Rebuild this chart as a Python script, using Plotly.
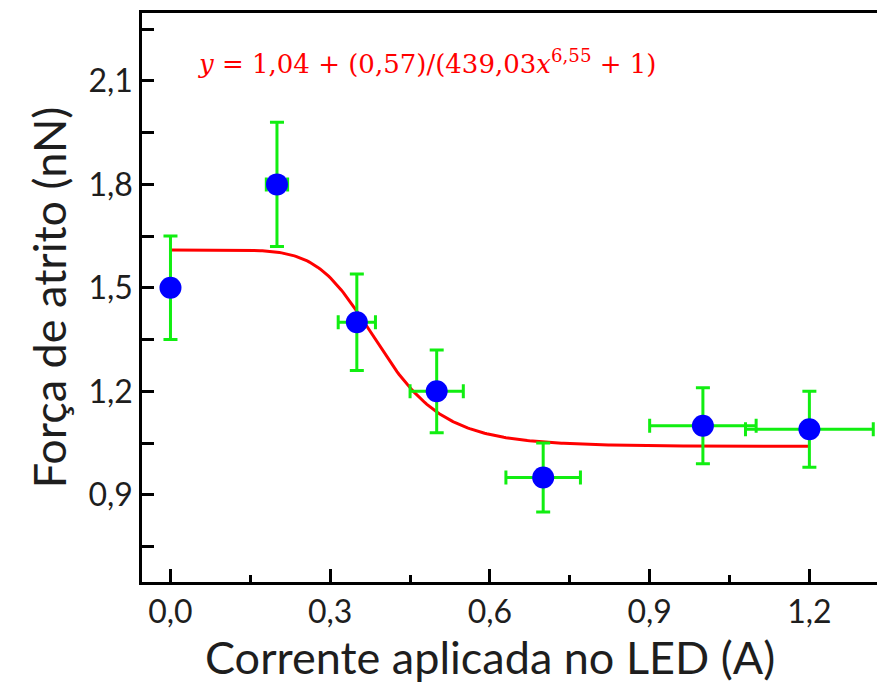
import numpy as np
import plotly.graph_objects as go

# Data
current = [0.0, 0.2, 0.35, 0.5, 0.7, 1.0, 1.2]
friction = [1.50, 1.80, 1.40, 1.20, 0.95, 1.10, 1.09]
friction_err = [0.15, 0.18, 0.14, 0.12, 0.10, 0.11, 0.11]
current_err = [0.0, 0.02, 0.035, 0.05, 0.07, 0.10, 0.12]

# Fit parameters shown in the chart: y = A + B/(C x^p + 1)
fit_A, fit_B, fit_C, fit_p = 1.04, 0.57, 439.03, 6.55
fit_x = np.linspace(0.0, 1.2, 300)
fit_y = fit_A + fit_B / (fit_C * fit_x ** fit_p + 1)

x_ticks = [0.0, 0.3, 0.6, 0.9, 1.2]
x_ticklabels = ["0,0", "0,3", "0,6", "0,9", "1,2"]
y_ticks = [0.9, 1.2, 1.5, 1.8, 2.1]
y_ticklabels = ["0,9", "1,2", "1,5", "1,8", "2,1"]

FONT = "Lato"
TXT = "#1e1e1e"

fig = go.Figure()
fig.add_trace(go.Scatter(
    x=fit_x, y=fit_y, mode="lines",
    line=dict(color="#ff0000", width=3), showlegend=False, hoverinfo="skip"))
fig.add_trace(go.Scatter(
    x=current, y=friction, mode="markers",
    marker=dict(color="#0000ff", size=22, line=dict(width=0)),
    error_y=dict(type="data", array=friction_err, color="#11ee11", thickness=3, width=7),
    error_x=dict(type="data", array=current_err, color="#11ee11", thickness=3, width=7),
    showlegend=False))

fig.add_annotation(
    x=0.048, y=2.155, xref="x", yref="y", xanchor="left", yanchor="middle",
    text="<i>y</i> = 1,04 + (0,57)/(439,03<i>x</i><sup>6,55</sup> + 1)",
    showarrow=False, font=dict(family="DejaVu Serif", size=26, color="#ff0000"))

# x-axis title placed as annotation (centered under the visible axis area)
fig.add_annotation(
    x=0.4735, y=-0.132, xref="paper", yref="paper", xanchor="center", yanchor="middle",
    text="Corrente aplicada no LED (A)", showarrow=False,
    font=dict(family=FONT, size=45, color=TXT))

fig.update_layout(
    width=877, height=683,
    margin=dict(l=142, r=0, t=13, b=101),
    plot_bgcolor="white", paper_bgcolor="white",
    font=dict(family=FONT, color=TXT),
)
fig.update_xaxes(
    range=[-0.0535, 1.327], showgrid=False, zeroline=False,
    showline=True, linecolor="black", linewidth=2.5, mirror=True,
    ticks="inside", ticklen=13, tickwidth=2.5, tickcolor="black",
    tickvals=x_ticks, ticktext=x_ticklabels,
    tickfont=dict(family=FONT, size=32, color=TXT),
    minor=dict(dtick=0.15, tick0=0.0, ticks="inside", ticklen=7, tickwidth=2.5, tickcolor="black"),
)
fig.update_yaxes(
    range=[0.647, 2.297], showgrid=False, zeroline=False,
    showline=True, linecolor="black", linewidth=2.5, mirror=False,
    ticks="inside", ticklen=12, tickwidth=2.5, tickcolor="black",
    tickvals=y_ticks, ticktext=y_ticklabels,
    tickfont=dict(family=FONT, size=32, color=TXT),
    minor=dict(dtick=0.15, tick0=0.75, ticks="inside", ticklen=12, tickwidth=2.5, tickcolor="black"),
    title=dict(text="Força de atrito (nN)", font=dict(family=FONT, size=45, color=TXT), standoff=8),
)

fig.write_html("out.html")
